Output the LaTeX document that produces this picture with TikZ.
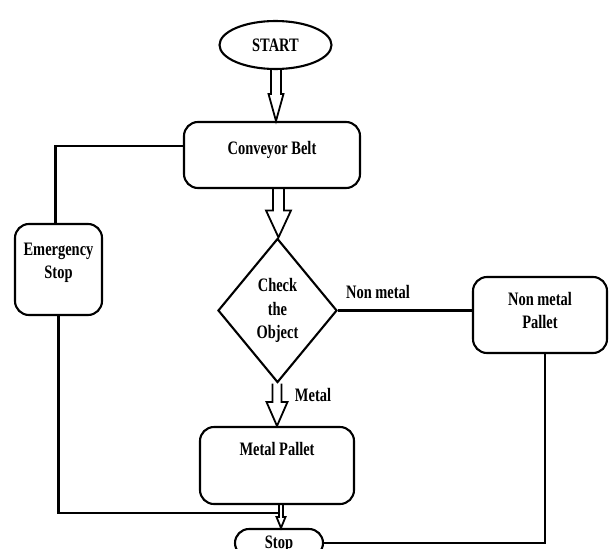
\documentclass[tikz,border=0pt]{standalone}
\usepackage{fontspec}
\newfontfamily\flowfont[FakeStretch=0.76]{Liberation Serif}
\usetikzlibrary{shapes.geometric,calc}

% hollow block arrow: [xshift]{from}{to}{shaft half}{head half}{head length}
\newcommand{\hollowarrow}[6][0pt]{%
  \draw[arrowline] let \p1=(#2.south), \p2=([xshift=#1]#3.north) in
    (\x2-#4,\y1) -- (\x2-#4,\y2+#6) -- (\x2-#5,\y2+#6) -- (\x2,\y2)
    -- (\x2+#5,\y2+#6) -- (\x2+#4,\y2+#6) -- (\x2+#4,\y1);}

\tikzset{
  flowtext/.style={font=\flowfont\bfseries\fontsize{19}{23.5}\selectfont, text=black},
  flowbox/.style={flowtext, draw, rectangle, rounded corners=14pt, line width=2.1pt,
    align=center, inner xsep=0pt, inner ysep=0pt},
  flowline/.style={draw, line width=2.1pt},
  arrowline/.style={draw, line width=1.8pt, line join=miter},
  lbl/.style={flowtext, inner sep=0pt}
}

\begin{document}
\begin{tikzpicture}[x=1pt, y=-1pt]
\useasboundingbox (0,0) rectangle (609,548);
\clip (0,0) rectangle (609,548);

\node[flowtext, ellipse, draw, line width=2.1pt, minimum width=112pt, minimum height=48pt, inner sep=0pt] (start) at (275.5,45) {START};
\node[flowbox, minimum width=176pt, text height=32pt, text depth=34pt] (conveyor) at (272,155) {Conveyor Belt};
\node[flowbox, minimum width=87pt, text height=54.5pt, text depth=36.5pt] (emergency) at (58.5,269.5) {Emergency\\Stop};
\node[flowtext, diamond, draw, line width=2.1pt, minimum width=119pt, minimum height=144pt, inner sep=0pt, align=center] (check) at (277.5,310.5) {Check\\the\\Object};
\node[flowbox, minimum width=134pt, text height=51.5pt, text depth=24.5pt] (nonmetal) at (540,315) {Non metal\\Pallet};
\node[flowbox, minimum width=154pt, text height=28.25pt, text depth=48.75pt] (metal) at (277,465.5) {Metal Pallet};
\node[flowbox, minimum width=88pt, text height=19pt, text depth=9pt] (stop) at (279,543) {Stop};

\node[lbl] (nonmetallbl) at (378,292) {Non metal};
\node[lbl] (metallbl) at (313,395) {Metal};

\coordinate (joinpt) at (279,513);

% block arrows
\hollowarrow[4pt]{start}{conveyor}{5pt}{7.5pt}{27pt}
\hollowarrow[1pt]{conveyor}{check}{5.5pt}{12.5pt}{27pt}
\hollowarrow{check}{metal}{4.5pt}{10.5pt}{24pt}
\hollowarrow[2pt]{metal}{stop}{2pt}{4.5pt}{11pt}

% plain connectors
\draw[flowline] ([yshift=9pt]conveyor.west) -| ([xshift=-3pt]emergency.north);
\draw[flowline] (emergency.south) |- (joinpt);
\draw[flowline] (check.east) -- (check.east -| nonmetal.west);
\draw[flowline] ([xshift=5pt]nonmetal.south) |- (stop.east);
\end{tikzpicture}
\end{document}
